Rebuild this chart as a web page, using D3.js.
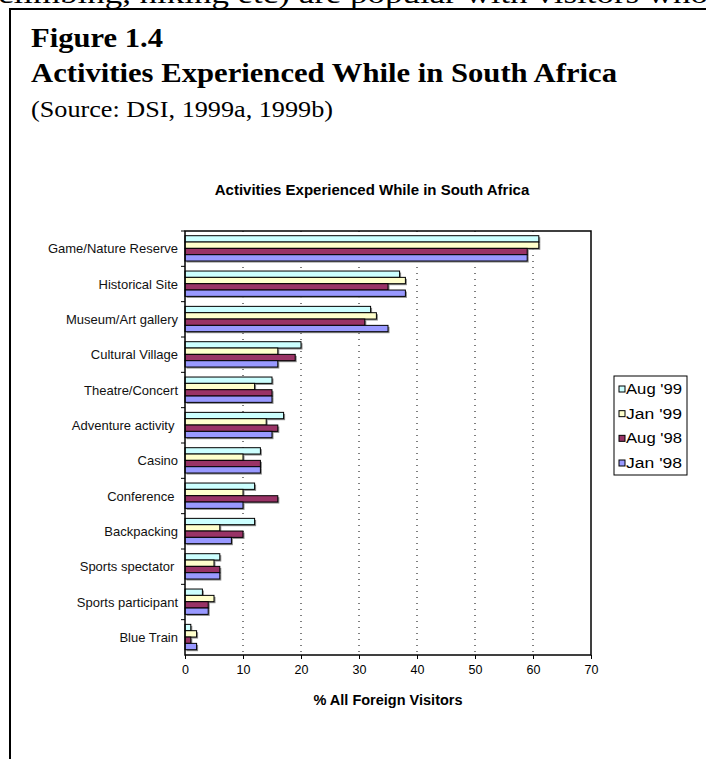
<!DOCTYPE html>
<html>
<head>
<meta charset="utf-8">
<script src="https://cdn.jsdelivr.net/npm/d3@7"></script>
<style>
  body { margin: 0; background: #fff; }
  svg { display: block; }
</style>
</head>
<body>
<div id="chart"></div>
<script>
// Data
const categories = ["Game/Nature Reserve", "Historical Site", "Museum/Art gallery", "Cultural Village",
    "Theatre/Concert", "Adventure activity ", "Casino", "Conference ", "Backpacking",
    "Sports spectator ", "Sports participant", "Blue Train"];
const seriesNames = ["Aug '99", "Jan '99", "Aug '98", "Jan '98"];
const aug99 = [61, 37, 32, 20, 15, 17, 13, 12, 12, 6, 3, 1];
const jan99 = [61, 38, 33, 16, 12, 14, 10, 10, 6, 5, 5, 2];
const aug98 = [59, 35, 31, 19, 15, 16, 13, 16, 10, 6, 4, 1];
const jan98 = [59, 38, 35, 16, 15, 15, 13, 10, 8, 6, 4, 2];
const xTicks = [0, 10, 20, 30, 40, 50, 60, 70];
const colors = ["#ccffff", "#ffffcc", "#993366", "#9999ff"];

const series = [aug99, jan99, aug98, jan98];

const W = 706, H = 759;
const svg = d3.select("#chart").append("svg")
    .attr("width", W)
    .attr("height", H);

// page text around the figure (top line is cut by the page edge)
svg.append("text")
    .attr("x", -2).attr("y", 3)
    .attr("textLength", 710)
    .attr("lengthAdjust", "spacingAndGlyphs")
    .style("font-family", "Liberation Serif")
    .style("font-size", "28px")
    .text("climbing, hiking etc) are popular with visitors who");

// figure frame
svg.append("path")
    .attr("d", `M10,${H} L10,9 L${W},9`)
    .attr("fill", "none")
    .attr("stroke", "#000")
    .attr("stroke-width", 2);

const head = svg.append("g").style("font-family", "Liberation Serif").attr("fill", "#000");
head.append("text").attr("x", 31).attr("y", 47)
    .attr("textLength", 132).attr("lengthAdjust", "spacingAndGlyphs")
    .style("font-size", "27px").style("font-weight", "bold").text("Figure 1.4");
head.append("text").attr("x", 31).attr("y", 82)
    .attr("textLength", 586).attr("lengthAdjust", "spacingAndGlyphs")
    .style("font-size", "27px").style("font-weight", "bold")
    .text("Activities Experienced While in South Africa");
head.append("text").attr("x", 31).attr("y", 117)
    .attr("textLength", 302).attr("lengthAdjust", "spacingAndGlyphs")
    .style("font-size", "24px").text("(Source: DSI, 1999a, 1999b)");

// chart area
const plot = {left: 185, right: 591, top: 231, bottom: 655};

const x = d3.scaleLinear().domain([0, 70]).range([plot.left, plot.right]);
const y = d3.scaleBand().domain(categories).range([plot.top, plot.bottom]);
const yInner = d3.scaleBand().domain(d3.range(seriesNames.length))
    .range([y.bandwidth() * 0.133, y.bandwidth() * 0.85]);

const g = svg.append("g").style("font-family", "Liberation Sans");

g.append("text")
    .attr("x", 372).attr("y", 195)
    .attr("text-anchor", "middle")
    .style("font-size", "15px")
    .style("font-weight", "bold")
    .text("Activities Experienced While in South Africa");

// dotted gridlines
g.selectAll(".grid")
    .data(xTicks.slice(1, -1))
    .join("line")
    .attr("x1", d => x(d)).attr("x2", d => x(d))
    .attr("y1", plot.top).attr("y2", plot.bottom)
    .attr("stroke", "#000")
    .attr("stroke-width", 1)
    .attr("stroke-dasharray", "1,5");

// bars: shadows first, then bars
const barData = [];
categories.forEach((c, i) => {
    series.forEach((s, j) => barData.push({cat: c, s: j, v: s[i]}));
});

g.selectAll(".shadow")
    .data(barData)
    .join("rect")
    .attr("x", x(0) + 1.5)
    .attr("y", d => y(d.cat) + yInner(d.s) + 1.5)
    .attr("width", d => x(d.v) - x(0))
    .attr("height", yInner.bandwidth())
    .attr("fill", "#8a8a8a");

g.selectAll(".bar")
    .data(barData)
    .join("rect")
    .attr("x", x(0))
    .attr("y", d => y(d.cat) + yInner(d.s))
    .attr("width", d => x(d.v) - x(0))
    .attr("height", yInner.bandwidth())
    .attr("fill", d => colors[d.s])
    .attr("stroke", "#000")
    .attr("stroke-width", 1);

// plot frame
g.append("rect")
    .attr("x", plot.left).attr("y", plot.top)
    .attr("width", plot.right - plot.left)
    .attr("height", plot.bottom - plot.top)
    .attr("fill", "none")
    .attr("stroke", "#000")
    .attr("stroke-width", 1.5);

// x axis
const xAxis = g.append("g")
    .attr("transform", `translate(0,${plot.bottom})`)
    .call(d3.axisBottom(x).tickValues(xTicks).tickSize(4).tickPadding(6));
xAxis.select(".domain").remove();
xAxis.selectAll("text").style("font-size", "12.5px").style("font-family", "Liberation Sans").attr("fill", "#000");

// y axis ticks at band boundaries
g.selectAll(".ytick")
    .data(categories)
    .join("line")
    .attr("x1", plot.left - 4).attr("x2", plot.left)
    .attr("y1", d => y(d)).attr("y2", d => y(d))
    .attr("stroke", "#000");

g.selectAll(".ylab")
    .data(categories)
    .join("text")
    .attr("x", 178)
    .attr("y", d => y(d) + y.bandwidth() / 2)
    .attr("dy", "0.36em")
    .attr("text-anchor", "end")
    .style("font-size", "13px")
    .style("white-space", "pre")
    .attr("fill", "#111")
    .text(d => d);

g.append("text")
    .attr("x", (plot.left + plot.right) / 2)
    .attr("y", 705)
    .attr("text-anchor", "middle")
    .style("font-size", "14.5px")
    .style("font-weight", "bold")
    .text("% All Foreign Visitors");

// legend
const leg = g.append("g");
leg.append("rect")
    .attr("x", 614).attr("y", 376)
    .attr("width", 73).attr("height", 99)
    .attr("fill", "#fff")
    .attr("stroke", "#000");

const legRow = d3.scalePoint().domain(d3.range(seriesNames.length)).range([389, 463]);
seriesNames.forEach((name, j) => {
    leg.append("rect")
        .attr("x", 619).attr("y", legRow(j) - 3)
        .attr("width", 6).attr("height", 6)
        .attr("fill", colors[j])
        .attr("stroke", "#000");
    leg.append("text")
        .attr("x", 626).attr("y", legRow(j))
        .attr("dy", "0.36em")
        .style("font-size", "14px")
        .attr("textLength", 56)
        .attr("lengthAdjust", "spacingAndGlyphs")
        .text(name);
});
</script>
</body>
</html>
